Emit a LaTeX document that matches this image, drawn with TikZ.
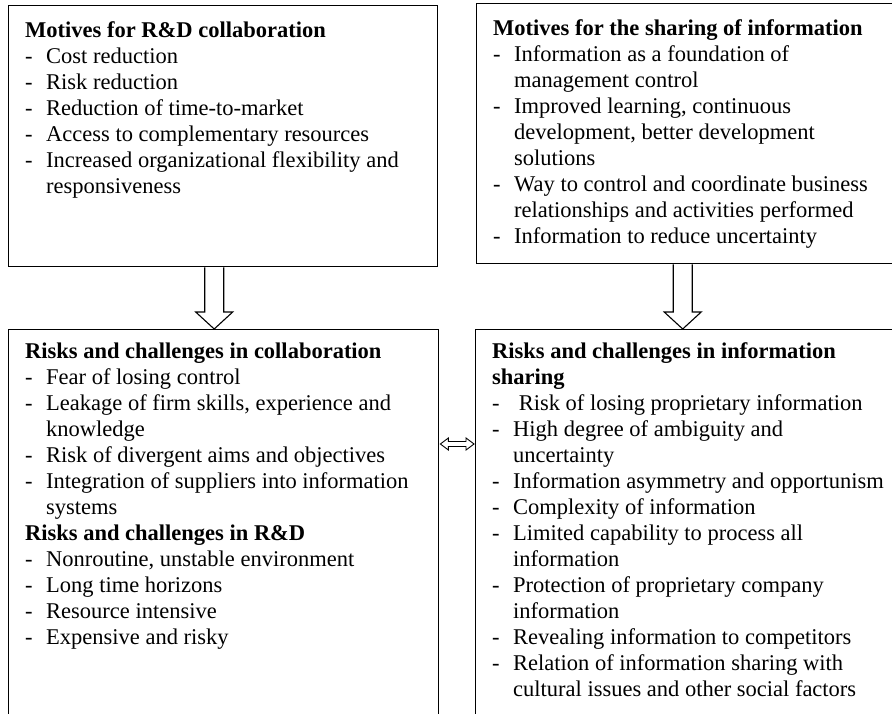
\documentclass[tikz,border=0pt]{standalone}
\usepackage{fontspec}
\setmainfont{Liberation Serif}
\usetikzlibrary{calc}

% dash list items with a hanging indent
\newcommand{\dashitem}{\makebox[21pt][l]{-}}
\newcommand{\dashcont}{\hspace*{21pt}}

\begin{document}
\begin{tikzpicture}[%
    x=1pt, y=-1pt,
    frame/.style={draw, line width=1.4pt, anchor=north west, inner sep=0pt},
    boxtext/.style={anchor=north west, align=left, inner sep=0pt,
      font=\fontsize{22.5}{26}\selectfont},
    fatarrow/.style={draw, line width=1.1pt, line join=miter}
    ]

    \clip (0,0) rectangle (892,714);

    % frames
    \node[frame, minimum width=429pt, minimum height=261pt] (mrd) at (8,5) {};
    \node[frame, minimum width=430pt, minimum height=260pt] (msi) at (476,3) {};
    \node[frame, minimum width=430pt, minimum height=420pt] (rcol) at (8,329) {};
    \node[frame, minimum width=430pt, minimum height=420pt] (rsi) at (475,329) {};

    % texts (first baseline about 32pt below the frame top)
    \node[boxtext] (mrdtext) at ($(mrd.north west)+(17,14)$) {%
        \strut\textbf{Motives for R\&D collaboration}\\
        \dashitem Cost reduction\\
        \dashitem Risk reduction\\
        \dashitem Reduction of time-to-market\\
        \dashitem Access to complementary resources\\
        \dashitem Increased organizational flexibility and\\
        \dashcont responsiveness};

    \node[boxtext] (msitext) at ($(msi.north west)+(17,14)$) {%
        \strut\textbf{Motives for the sharing of information}\\
        \dashitem Information as a foundation of\\
        \dashcont management control\\
        \dashitem Improved learning, continuous\\
        \dashcont development, better development\\
        \dashcont solutions\\
        \dashitem Way to control and coordinate business\\
        \dashcont relationships and activities performed\\
        \dashitem Information to reduce uncertainty};

    \node[boxtext] (rcoltext) at ($(rcol.north west)+(17,11)$) {%
        \strut\textbf{Risks and challenges in collaboration}\\
        \dashitem Fear of losing control\\
        \dashitem Leakage of firm skills, experience and\\
        \dashcont knowledge\\
        \dashitem Risk of divergent aims and objectives\\
        \dashitem Integration of suppliers into information\\
        \dashcont systems\\
        \textbf{Risks and challenges in R\&D}\\
        \dashitem Nonroutine, unstable environment\\
        \dashitem Long time horizons\\
        \dashitem Resource intensive\\
        \dashitem Expensive and risky};

    \node[boxtext] (rsitext) at ($(rsi.north west)+(17,11)$) {%
        \strut\textbf{Risks and challenges in information}\\
        \textbf{sharing}\\
        \dashitem\ Risk of losing proprietary information\\
        \dashitem High degree of ambiguity and\\
        \dashcont uncertainty\\
        \dashitem Information asymmetry and opportunism\\
        \dashitem Complexity of information\\
        \dashitem Limited capability to process all\\
        \dashcont information\\
        \dashitem Protection of proprietary company\\
        \dashcont information\\
        \dashitem Revealing information to competitors\\
        \dashitem Relation of information sharing with\\
        \dashcont cultural issues and other social factors};

    % block arrows down
    \coordinate (a1) at ($(mrd.south)+(-9,0)$);
    \coordinate (a1tip) at (a1 |- rcol.north);
    \draw[fatarrow] ($(a1)+(-9.5,0)$) -- ($(a1tip)+(-9.5,-17)$)
        -- ($(a1tip)+(-18.5,-17)$) -- (a1tip) -- ($(a1tip)+(18.5,-17)$)
        -- ($(a1tip)+(9.5,-17)$) -- ($(a1)+(9.5,0)$);

    \coordinate (a2) at ($(msi.south)+(-9,0)$);
    \coordinate (a2tip) at (a2 |- rsi.north);
    \draw[fatarrow] ($(a2)+(-9.5,0)$) -- ($(a2tip)+(-9.5,-17)$)
        -- ($(a2tip)+(-18.5,-17)$) -- (a2tip) -- ($(a2tip)+(18.5,-17)$)
        -- ($(a2tip)+(9.5,-17)$) -- ($(a2)+(9.5,0)$);

    % double arrow between the lower frames
    \coordinate (dl) at (rcol.east |- 0,444);
    \coordinate (dr) at (rsi.west |- 0,444);
    \draw[fatarrow, line width=0.9pt] ($(dl)+(1,0)$) -- ($(dl)+(9,-6)$) -- ($(dl)+(9,-2.5)$)
        -- ($(dr)+(-9,-2.5)$) -- ($(dr)+(-9,-6)$) -- ($(dr)+(-1,0)$)
        -- ($(dr)+(-9,6)$) -- ($(dr)+(-9,2.5)$) -- ($(dl)+(9,2.5)$)
        -- ($(dl)+(9,6)$) -- cycle;

\end{tikzpicture}
\end{document}
